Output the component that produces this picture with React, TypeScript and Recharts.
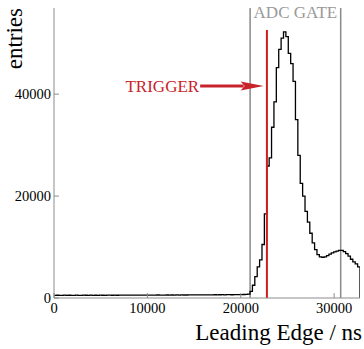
import { ComposedChart, Line, XAxis, YAxis, ReferenceLine, ReferenceArea } from "recharts";

// histogram: 128 bins of 256 ns over the 0..32768 ns window
const BIN_WIDTH = 256;
const X_MAX = 32768;
const Y_MAX = 56900;

const binCounts = [
  520, 540, 510, 530, 550, 520, 540, 530, 510, 545,
  530, 520, 545, 535, 515, 550, 530, 540, 525, 555,
  540, 530, 560, 545, 535, 555, 540, 565, 550, 545,
  560, 550, 570, 545, 565, 555, 575, 560, 550, 580,
  565, 575, 560, 585, 570, 580, 565, 590, 575, 585,
  580, 595, 575, 600, 590, 585, 605, 595, 610, 600,
  615, 605, 620, 610, 630, 615, 625, 640, 620, 635,
  645, 630, 650, 660, 640, 665, 655, 670, 680, 690,
  720, 780, 1300, 2500, 4200, 6100, 7500, 10500, 16500, 25900,
  27500, 33500, 38500, 45200, 48800, 51000, 52200, 51300, 48000, 46000,
  42500, 35000, 28000, 22500, 20000, 17000, 14900, 12700, 10800, 9500,
  8500, 8050, 8000, 8050, 8300, 8600, 8850, 9050, 9200, 9350,
  9350, 9100, 8700, 8200, 7600, 7100, 6700, 6100,
];

const xTicks = [0, 10000, 20000, 30000];
const yTicks = [0, 20000, 40000];

const gateEdges = [21000, 30700];
const triggerTime = 22800;
const triggerTop = 52600;
const arrowStart = 15650;
const arrowEnd = 22450;
const arrowLevel = 41600;

const histData = [
  ...binCounts.map((entries, i) => ({ t: i * BIN_WIDTH, entries })),
  { t: X_MAX, entries: binCounts[binCounts.length - 1] },
  { t: X_MAX, entries: 0 },
];

const FONT = '"Liberation Serif", "DejaVu Serif", serif';
const AXIS_GREY = "#8c8c8c";
const GATE_GREY = "#8a8a8a";
const TRIGGER_RED = "#d01c1c";
const ARROW_RED = "#c8232b";

function TriggerArrow(props: any) {
  const { x1, y1, x2 } = props;
  return (
    <g>
      <line x1={x1} y1={y1} x2={x2 - 20} y2={y1} stroke={ARROW_RED} strokeWidth={3} />
      <polygon
        points={`${x2 - 23},${y1 - 4.5} ${x2},${y1} ${x2 - 23},${y1 + 4.5} ${x2 - 19},${y1}`}
        fill={ARROW_RED}
      />
      <text x={x1 - 1} y={y1 + 6} textAnchor="end" fill={ARROW_RED} fontSize={17} fontFamily={FONT}>
        TRIGGER
      </text>
    </g>
  );
}

// serif tick labels, drawn at the position the axis hands over
const XTick = (p: any) => (
  <text x={p.x} y={p.y} dy="0.71em" textAnchor="middle" fontSize={14.5} fontFamily={FONT} fill="#000">
    {p.payload.value}
  </text>
);
const YTick = (p: any) => (
  <text x={p.x} y={p.y} dy="0.355em" textAnchor="end" fontSize={14.5} fontFamily={FONT} fill="#000">
    {p.payload.value}
  </text>
);

export default function App() {
  return (
    <div style={{ position: "absolute", left: 0, top: 0, background: "#fff" }}>
      <ComposedChart
        width={364}
        height={349}
        data={histData}
        margin={{ top: 8, right: 4, left: 0, bottom: 0 }}
        style={{ fontFamily: FONT }}
      >
        <XAxis
          dataKey="t"
          type="number"
          domain={[0, X_MAX]}
          ticks={xTicks}
          height={51}
          stroke={AXIS_GREY}
          tickSize={-5}
          tickMargin={10}
          tick={XTick}
          allowDataOverflow
          label={(p: any) => (
            <text
              x={p.viewBox.x + p.viewBox.width + 2}
              y={p.viewBox.y + 42}
              textAnchor="end"
              fontSize={23}
              fontFamily={FONT}
              fill="#000"
            >
              Leading Edge / ns
            </text>
          )}
        />
        <YAxis
          type="number"
          domain={[0, Y_MAX]}
          ticks={yTicks}
          width={54}
          stroke={AXIS_GREY}
          tickSize={-5}
          tickMargin={8}
          tick={YTick}
          allowDataOverflow
          label={(p: any) => (
            <text
              transform={`translate(${p.viewBox.x + 22}, ${p.viewBox.y}) rotate(-90)`}
              textAnchor="end"
              fontSize={23}
              fontFamily={FONT}
              fill="#000"
            >
              entries
            </text>
          )}
        />
        <ReferenceArea
          x1={gateEdges[0]}
          x2={gateEdges[1]}
          fill="none"
          stroke="none"
          label={{
            value: "ADC GATE",
            position: "insideTop",
            offset: -2,
            fill: "#999",
            fontSize: 17,
            fontFamily: FONT,
          }}
        />
        {gateEdges.map((g) => (
          <ReferenceLine key={g} x={g} stroke={GATE_GREY} strokeWidth={1.5} />
        ))}
        <Line
          dataKey="entries"
          type="stepAfter"
          stroke="#000"
          strokeWidth={1.3}
          dot={false}
          isAnimationActive={false}
        />
        <ReferenceLine
          segment={[
            { x: triggerTime, y: 0 },
            { x: triggerTime, y: triggerTop },
          ]}
          stroke={TRIGGER_RED}
          strokeWidth={2}
        />
        <ReferenceLine
          segment={[
            { x: arrowStart, y: arrowLevel },
            { x: arrowEnd, y: arrowLevel },
          ]}
          shape={TriggerArrow}
        />
      </ComposedChart>
    </div>
  );
}
